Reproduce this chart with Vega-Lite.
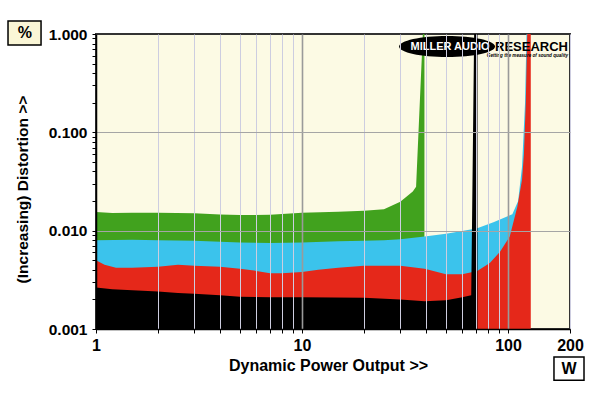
{
  "$schema": "https://vega.github.io/schema/vega-lite/v6.json",
  "width": 474,
  "height": 295,
  "autosize": "none",
  "padding": {"left": 96, "top": 34, "right": 30, "bottom": 64},
  "background": "white",
  "config": {
    "view": {"fill": "#FCFAE4", "stroke": "#333333", "strokeWidth": 2},
    "font": "Liberation Sans"
  },
  "datasets": {
    "curves": [
      {"s": "g", "x": 1, "y": 0.0155}, {"s": "g", "x": 1.2, "y": 0.0151}, {"s": "g", "x": 1.5, "y": 0.0152}, {"s": "g", "x": 2, "y": 0.0152},
      {"s": "g", "x": 3, "y": 0.0150}, {"s": "g", "x": 4, "y": 0.0146}, {"s": "g", "x": 5, "y": 0.0144}, {"s": "g", "x": 7, "y": 0.0145},
      {"s": "g", "x": 10, "y": 0.0152}, {"s": "g", "x": 15, "y": 0.0156}, {"s": "g", "x": 20, "y": 0.0159}, {"s": "g", "x": 25, "y": 0.0165},
      {"s": "g", "x": 30, "y": 0.0197}, {"s": "g", "x": 34.5, "y": 0.025}, {"s": "g", "x": 35.8, "y": 0.028}, {"s": "g", "x": 38.6, "y": 1.0},
      {"s": "g", "x": 39.3, "y": 1.0},
      {"s": "b", "x": 1, "y": 0.0080}, {"s": "b", "x": 1.5, "y": 0.0081}, {"s": "b", "x": 2, "y": 0.0080}, {"s": "b", "x": 3, "y": 0.0079},
      {"s": "b", "x": 5, "y": 0.0076}, {"s": "b", "x": 7, "y": 0.0075}, {"s": "b", "x": 10, "y": 0.0076}, {"s": "b", "x": 15, "y": 0.0078},
      {"s": "b", "x": 20, "y": 0.0079}, {"s": "b", "x": 25, "y": 0.0080}, {"s": "b", "x": 30, "y": 0.0082}, {"s": "b", "x": 39.4, "y": 0.0087},
      {"s": "b", "x": 50, "y": 0.0093}, {"s": "b", "x": 60, "y": 0.0099}, {"s": "b", "x": 70.9, "y": 0.0106}, {"s": "b", "x": 85, "y": 0.0122},
      {"s": "b", "x": 105, "y": 0.0147}, {"s": "b", "x": 112, "y": 0.020}, {"s": "b", "x": 117, "y": 0.045}, {"s": "b", "x": 121, "y": 0.2},
      {"s": "b", "x": 123, "y": 1.0}, {"s": "b", "x": 126, "y": 1.0},
      {"s": "r", "x": 1, "y": 0.0050}, {"s": "r", "x": 1.1, "y": 0.0045}, {"s": "r", "x": 1.25, "y": 0.0042}, {"s": "r", "x": 1.5, "y": 0.0042},
      {"s": "r", "x": 2, "y": 0.0043}, {"s": "r", "x": 2.5, "y": 0.0045}, {"s": "r", "x": 3, "y": 0.0044}, {"s": "r", "x": 4, "y": 0.0043},
      {"s": "r", "x": 5, "y": 0.0041}, {"s": "r", "x": 6, "y": 0.0039}, {"s": "r", "x": 7, "y": 0.0037}, {"s": "r", "x": 8, "y": 0.0037},
      {"s": "r", "x": 10, "y": 0.0038}, {"s": "r", "x": 12, "y": 0.0040}, {"s": "r", "x": 15, "y": 0.0042}, {"s": "r", "x": 20, "y": 0.0044},
      {"s": "r", "x": 25, "y": 0.0044}, {"s": "r", "x": 30, "y": 0.0044}, {"s": "r", "x": 39.4, "y": 0.0041}, {"s": "r", "x": 50, "y": 0.0036},
      {"s": "r", "x": 60, "y": 0.0036}, {"s": "r", "x": 70.9, "y": 0.0039}, {"s": "r", "x": 81.6, "y": 0.0047}, {"s": "r", "x": 91.5, "y": 0.0061},
      {"s": "r", "x": 102, "y": 0.0087}, {"s": "r", "x": 111, "y": 0.0175}, {"s": "r", "x": 117, "y": 0.033}, {"s": "r", "x": 119.5, "y": 0.06},
      {"s": "r", "x": 122, "y": 0.2}, {"s": "r", "x": 124, "y": 1.0}, {"s": "r", "x": 129, "y": 1.0},
      {"s": "k", "x": 1, "y": 0.00265}, {"s": "k", "x": 1.2, "y": 0.00253}, {"s": "k", "x": 1.5, "y": 0.00248}, {"s": "k", "x": 2, "y": 0.0024},
      {"s": "k", "x": 2.5, "y": 0.00232}, {"s": "k", "x": 3, "y": 0.00228}, {"s": "k", "x": 4, "y": 0.0022}, {"s": "k", "x": 5, "y": 0.00213},
      {"s": "k", "x": 7, "y": 0.0021}, {"s": "k", "x": 10, "y": 0.0021}, {"s": "k", "x": 20, "y": 0.00208}, {"s": "k", "x": 30, "y": 0.0020},
      {"s": "k", "x": 39.4, "y": 0.00192}, {"s": "k", "x": 50, "y": 0.00196}, {"s": "k", "x": 60, "y": 0.0021}, {"s": "k", "x": 66.3, "y": 0.0022},
      {"s": "k", "x": 68.5, "y": 1.0}, {"s": "k", "x": 71.1, "y": 1.0}
    ],
    "boxes": [
      {"t": "%", "x": 0.374, "x2": 0.541, "y": 0.773, "y2": 1.356, "cx": 0.452, "cy": 1.03},
      {"t": "W", "x": 167.2, "x2": 233.9, "y": 0.000302, "y2": 0.000518, "cx": 197.8, "cy": 0.000396}
    ],
    "logo": [
      {"id": "ellipse", "x": 50.6, "y": 0.746, "t": ""},
      {"id": "miller", "x": 52.3, "y": 0.746, "t": "MILLER AUDIO"},
      {"id": "research", "x": 86.5, "y": 0.746, "t": "RESEARCH"},
      {"id": "tag", "x": 195.6, "y": 0.597, "t": "Getting the measure of sound quality"}
    ]
  },
  "encoding": {
    "x": {
      "field": "x",
      "type": "quantitative",
      "scale": {"type": "log", "domain": [1, 200], "nice": false},
      "axis": {
        "values": [1, 2, 3, 4, 5, 6, 7, 8, 9, 10, 20, 30, 40, 50, 60, 70, 80, 90, 100, 200],
        "labelExpr": "indexof([1,10,100,200], datum.value) >= 0 ? format(datum.value, 'd') : ''",
        "title": "Dynamic Power Output >>",
        "titleFontSize": 16, "titleFontWeight": "bold", "titleColor": "black",
        "titleX": 232, "titlePadding": 4,
        "labelFontSize": 16, "labelFontWeight": "bold", "labelColor": "black",
        "labelFlush": false, "labelOverlap": false, "labelPadding": 4,
        "tickSize": 4, "tickColor": "black", "domainColor": "black", "domainWidth": 1.5,
        "grid": true,
        "gridColor": {"condition": {"test": "datum.value == 10 || datum.value == 100", "value": "#9a9a9a"}, "value": "#cdcde0"},
        "gridWidth": {"condition": {"test": "datum.value == 10 || datum.value == 100", "value": 1.6}, "value": 1},
        "zindex": 1
      }
    },
    "y": {
      "field": "y",
      "type": "quantitative",
      "scale": {"type": "log", "domain": [0.001, 1], "nice": false},
      "axis": {
        "values": [0.001, 0.002, 0.003, 0.004, 0.005, 0.006, 0.007, 0.008, 0.009, 0.01, 0.02, 0.03, 0.04, 0.05, 0.06, 0.07, 0.08, 0.09, 0.1, 0.2, 0.3, 0.4, 0.5, 0.6, 0.7, 0.8, 0.9, 1],
        "labelExpr": "indexof([0.001,0.01,0.1,1], datum.value) >= 0 ? format(datum.value, '.3f') : ''",
        "title": "(Increasing) Distortion >>",
        "titleFontSize": 15.5, "titleFontWeight": "bold", "titleColor": "black",
        "titleY": 155, "titlePadding": 18,
        "labelFontSize": 15.5, "labelFontWeight": "bold", "labelColor": "black",
        "labelOverlap": false, "labelPadding": 5,
        "tickSize": 4, "tickColor": "black", "domainColor": "black", "domainWidth": 1.5,
        "grid": true,
        "gridColor": "#a5a5a5",
        "gridOpacity": {"condition": {"test": "datum.value == 0.01 || datum.value == 0.1", "value": 1}, "value": 0},
        "zindex": 1
      }
    }
  },
  "layer": [
    {
      "data": {"name": "curves"},
      "transform": [{"filter": "datum.s == 'g'"}],
      "mark": {"type": "area", "color": "#41A21E", "interpolate": "linear"},
      "encoding": {"y2": {"datum": 0.001}}
    },
    {
      "data": {"name": "curves"},
      "transform": [{"filter": "datum.s == 'b'"}],
      "mark": {"type": "area", "color": "#3BC3EC", "interpolate": "linear"},
      "encoding": {"y2": {"datum": 0.001}}
    },
    {
      "data": {"name": "curves"},
      "transform": [{"filter": "datum.s == 'r'"}],
      "mark": {"type": "area", "color": "#E5281A", "interpolate": "linear"},
      "encoding": {"y2": {"datum": 0.001}}
    },
    {
      "data": {"name": "curves"},
      "transform": [{"filter": "datum.s == 'k'"}],
      "mark": {"type": "area", "color": "#000000", "interpolate": "linear"},
      "encoding": {"y2": {"datum": 0.001}}
    },
    {
      "data": {"name": "logo"},
      "transform": [{"filter": "datum.id == 'ellipse'"}],
      "mark": {"type": "point", "shape": "M-1,0A1,0.22,0,1,1,1,0A1,0.22,0,1,1,-1,0Z", "size": 9216, "filled": true, "fill": "#000000", "opacity": 1, "strokeWidth": 0}
    },
    {
      "data": {"name": "logo"},
      "transform": [{"filter": "datum.id == 'miller'"}],
      "mark": {"type": "text", "font": "Liberation Sans", "fontWeight": "bold", "fontSize": 11, "color": "white", "align": "center", "baseline": "middle"},
      "encoding": {"text": {"field": "t"}}
    },
    {
      "data": {"name": "logo"},
      "transform": [{"filter": "datum.id == 'research'"}],
      "mark": {"type": "text", "font": "Liberation Sans", "fontWeight": "bold", "fontSize": 13, "color": "black", "align": "left", "baseline": "middle"},
      "encoding": {"text": {"field": "t"}}
    },
    {
      "data": {"name": "logo"},
      "transform": [{"filter": "datum.id == 'tag'"}],
      "mark": {"type": "text", "font": "Liberation Sans", "fontWeight": "bold", "fontStyle": "italic", "fontSize": 4.6, "color": "black", "align": "right", "baseline": "middle"},
      "encoding": {"text": {"field": "t"}}
    },
    {
      "data": {"name": "boxes"},
      "mark": {"type": "rect", "stroke": "black", "strokeWidth": 1.5},
      "encoding": {
        "x2": {"field": "x2"},
        "y2": {"field": "y2"},
        "fill": {"condition": {"test": "datum.t == '%'", "value": "#FAF6D6"}, "value": "white"}
      }
    },
    {
      "data": {"name": "boxes"},
      "mark": {"type": "text", "fontSize": 16, "fontWeight": "bold", "color": "black", "align": "center", "baseline": "middle"},
      "encoding": {
        "x": {"field": "cx", "type": "quantitative"},
        "y": {"field": "cy", "type": "quantitative"},
        "text": {"field": "t"}
      }
    }
  ]
}
